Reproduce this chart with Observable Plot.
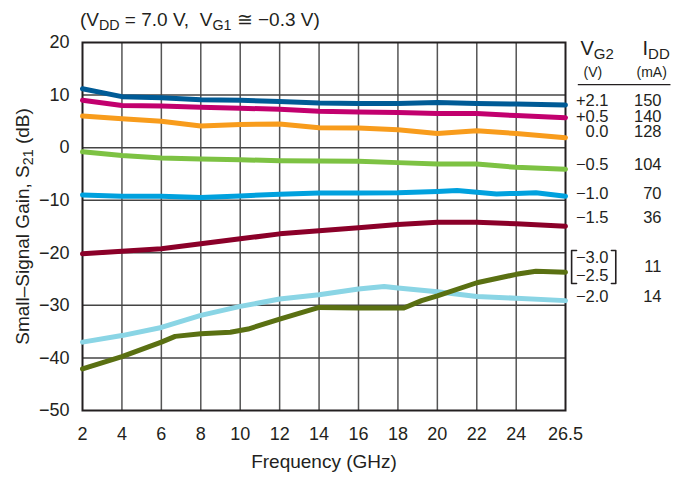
<!DOCTYPE html>
<html>
<head>
<meta charset="utf-8">
<script src="https://cdn.jsdelivr.net/npm/d3@7"></script>
<script src="https://cdn.jsdelivr.net/npm/@observablehq/plot@0.6"></script>
<style>
  html, body { margin: 0; padding: 0; background: #fff; }
  #title {
    height: 30px; box-sizing: border-box; padding: 10px 0 0 80px;
    font-family: "Liberation Sans", Arial, sans-serif; font-size: 19px; line-height: 19px;
    color: #231f20; white-space: pre;
  }
  #title sub { font-size: 75%; line-height: 0; vertical-align: -0.3em; }
  #chart svg { display: block; }
</style>
</head>
<body>
<div id="title">(V<sub>DD</sub> = 7.0 V,  V<sub>G1</sub> ≅ −0.3 V)</div>
<div id="chart"></div>
<script>
// ---------- data ----------
const xTicks = [2, 4, 6, 8, 10, 12, 14, 16, 18, 20, 22, 24, 26.5];
const yTicks = [-50, -40, -30, -20, -10, 0, 10, 20];
const xLabel = "Frequency (GHz)";
const yLabel = "Small–Signal Gain, S_{21} (dB)";

const freqStd = [2, 4, 6, 8, 10, 12, 14, 16, 18, 20, 22, 24, 26.5];
const gainP21 = [11.2, 9.7, 9.5, 9.1, 9.0, 8.8, 8.5, 8.4, 8.4, 8.6, 8.4, 8.3, 8.1];
const gainP05 = [9.0, 8.0, 7.9, 7.7, 7.5, 7.3, 6.9, 6.8, 6.7, 6.5, 6.5, 6.1, 5.7];
const gainP00 = [6.0, 5.5, 5.0, 4.1, 4.4, 4.5, 3.8, 3.75, 3.4, 2.7, 3.2, 2.7, 1.9];
const gainM05 = [-0.8, -1.5, -1.95, -2.15, -2.3, -2.5, -2.55, -2.6, -2.85, -3.1, -3.1, -3.75, -4.1];
const freqM10 = [2, 4, 6, 8, 10, 12, 14, 16, 18, 20, 21, 22, 23, 24, 25, 26.5];
const gainM10 = [-9.0, -9.25, -9.25, -9.5, -9.2, -8.85, -8.65, -8.65, -8.6, -8.35, -8.15, -8.5, -8.8, -8.7, -8.6, -9.25];
const gainM15 = [-20.2, -19.7, -19.25, -18.3, -17.35, -16.4, -15.8, -15.25, -14.6, -14.2, -14.2, -14.5, -14.95];
const freqM20 = [2, 4, 6, 8, 10, 12, 14, 16, 17.3, 18, 20, 22, 24, 26.5];
const gainM20 = [-37.0, -35.75, -34.2, -31.9, -30.2, -28.8, -28.0, -26.9, -26.4, -26.7, -27.4, -28.3, -28.65, -29.1];
const freqM30 = [2, 4, 6, 6.7, 8, 9.5, 10.4, 12, 14, 16, 18, 18.3, 19.2, 20, 22, 24, 25, 26.5];
const gainM30 = [-42.1, -39.75, -37.0, -35.9, -35.4, -35.1, -34.5, -32.6, -30.4, -30.5, -30.5, -30.5, -29.1, -28.2, -25.7, -24.1, -23.5, -23.7];

const seriesNames  = ["+2.1", "+0.5", "0.0", "−0.5", "−1.0", "−1.5", "−2.0", "−3.0/−2.5"];
const seriesColors = ["#005b96", "#c2006e", "#f89c1c", "#7dc243", "#00a1de", "#8b0029", "#8ad5e5", "#5a7012"];
const seriesFreqs  = [freqStd, freqStd, freqStd, freqStd, freqM10, freqStd, freqM20, freqM30];
const seriesGains  = [gainP21, gainP05, gainP00, gainM05, gainM10, gainM15, gainM20, gainM30];

// legend table (right side)
const legendHeadV  = "V_{G2}";
const legendHeadI  = "I_{DD}";
const legendUnitV  = "(V)";
const legendUnitI  = "(mA)";
const legendHeadY  = 18.75;
const legendUnitY  = 14.3;
const legendVg2    = ["+2.1", "+0.5", "0.0", "−0.5", "−1.0", "−1.5", "−3.0", "−2.5", "−2.0"];
const legendVg2Y   = [8.95, 5.9, 3.05, -3.2, -8.75, -13.35, -20.9, -24.4, -28.3];
const legendIdd    = ["150", "140", "128", "104", "70", "36", "11", "14"];
const legendIddY   = [8.95, 5.9, 3.05, -3.2, -8.75, -13.35, -22.6, -28.3];
const legendRuleY  = 12.0;
const legendRuleX  = [27.15, 31.85];
const bracketLeft  = {x: [27.06, 26.81, 26.81, 27.06], y: [-19.57, -19.57, -25.85, -25.85]};
const bracketRight = {x: [28.83, 29.05, 29.05, 28.83], y: [-19.57, -19.57, -25.85, -25.85]};

// ---------- build tables ----------
const rows = [];
seriesNames.forEach((name, i) => {
  seriesFreqs[i].forEach((f, j) => rows.push({series: name, freq: f, gain: seriesGains[i][j]}));
});
const toPts = b => b.x.map((x, i) => ({x, y: b.y[i]}));
const one = (t, y) => [{t, y}];

const chart = Plot.plot({
  width: 678,
  height: 449,
  marginLeft: 82,
  marginRight: 113,
  marginTop: 12,
  marginBottom: 69,
  style: {fontFamily: "Liberation Sans, Arial, sans-serif", fontSize: "18px", color: "#231f20", background: "#fff", overflow: "visible"},
  x: {domain: [2, 26.5], ticks: xTicks, tickSize: 0, tickPadding: 17, tickFormat: d => String(d), label: null},
  y: {domain: [-50, 20], ticks: yTicks, tickSize: 0, tickPadding: 13, label: null},
  color: {domain: seriesNames, range: seriesColors},
  marks: [
    Plot.ruleX(xTicks.slice(1, -1), {stroke: "#555", strokeWidth: 1.5}),
    Plot.ruleY(yTicks.slice(1, -1), {stroke: "#444", strokeWidth: 1.5}),
    Plot.frame({stroke: "#231f20", strokeWidth: 2}),
    Plot.line(rows, {x: "freq", y: "gain", z: "series", stroke: "series", strokeWidth: 5, strokeLinejoin: "round"}),
    // axis titles
    Plot.text([xLabel], {text: d => d, frameAnchor: "bottom", lineAnchor: "middle", textAnchor: "middle", dy: 51, fontSize: 19}),
    Plot.text([yLabel], {text: d => d, frameAnchor: "left", lineAnchor: "middle", textAnchor: "middle", rotate: -90, dx: -60, fontSize: 19}),
    // legend header
    Plot.text(one(legendHeadV, legendHeadY), {text: "t", y: "y", frameAnchor: "right", textAnchor: "start", dx: 15, fontSize: 20}),
    Plot.text(one(legendHeadI, legendHeadY), {text: "t", y: "y", frameAnchor: "right", textAnchor: "start", dx: 77, fontSize: 20}),
    Plot.text(one(legendUnitV, legendUnitY), {text: "t", y: "y", frameAnchor: "right", textAnchor: "start", dx: 18, fontSize: 14}),
    Plot.text(one(legendUnitI, legendUnitY), {text: "t", y: "y", frameAnchor: "right", textAnchor: "start", dx: 71, fontSize: 14}),
    Plot.ruleY([legendRuleY], {x1: legendRuleX[0], x2: legendRuleX[1], stroke: "#231f20", strokeWidth: 1.3, clip: false}),
    // legend rows
    Plot.text(legendVg2.map((t, i) => ({t, y: legendVg2Y[i]})), {text: "t", y: "y", frameAnchor: "right", textAnchor: "end", dx: 43, fontSize: 16.5}),
    Plot.text(legendIdd.map((t, i) => ({t, y: legendIddY[i]})), {text: "t", y: "y", frameAnchor: "right", textAnchor: "end", dx: 96, fontSize: 16.5}),
    Plot.line(toPts(bracketLeft), {x: "x", y: "y", stroke: "#231f20", strokeWidth: 1.6, clip: false}),
    Plot.line(toPts(bracketRight), {x: "x", y: "y", stroke: "#231f20", strokeWidth: 1.6, clip: false})
  ]
});

// render "_{...}" as subscripts
function applySubs(root) {
  root.querySelectorAll("text").forEach(t => {
    const leaves = t.querySelectorAll("tspan").length ? [...t.querySelectorAll("tspan")] : [t];
    leaves.forEach(el => {
      const s = el.textContent;
      if (!s.includes("_{")) return;
      el.textContent = "";
      const re = /_\{([^}]*)\}/g;
      let last = 0, m;
      const ns = "http://www.w3.org/2000/svg";
      const add = (str, sub) => {
        const ts = document.createElementNS(ns, "tspan");
        ts.textContent = str;
        if (sub) { ts.setAttribute("font-size", "75%"); ts.setAttribute("baseline-shift", "-25%"); }
        el.appendChild(ts);
      };
      while ((m = re.exec(s))) {
        if (m.index > last) add(s.slice(last, m.index), false);
        add(m[1], true);
        last = re.lastIndex;
      }
      if (last < s.length) add(s.slice(last), false);
    });
  });
}
applySubs(chart);
document.getElementById("chart").appendChild(chart);
</script>
</body>
</html>
